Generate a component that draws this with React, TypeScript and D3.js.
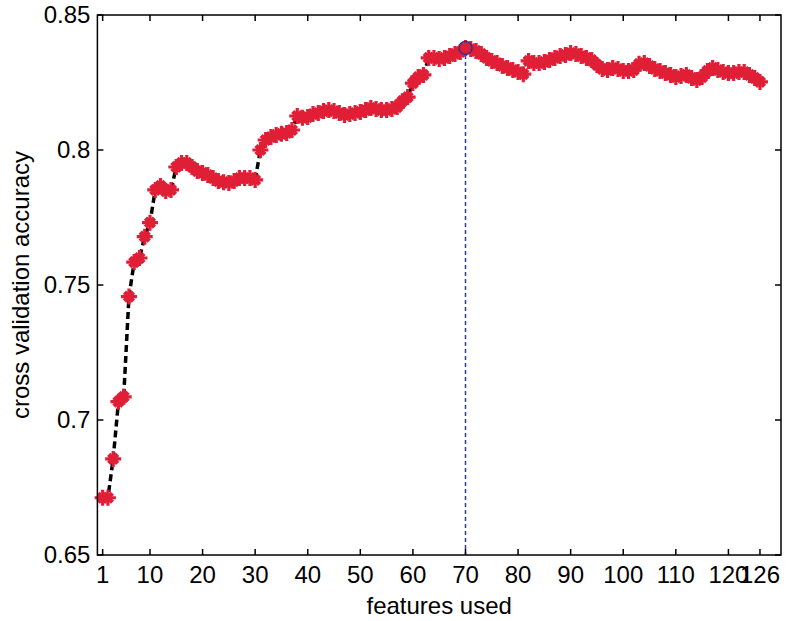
import React, { useEffect, useRef } from 'react';
import * as d3 from 'd3';

// number of features used (1..126)
const featuresUsed = d3.range(1, 127);

// cross validation accuracy
const accuracy = [
  0.6712, 0.6712, 0.6856, 0.7068, 0.7086, 0.7457, 0.7585, 0.7600, 0.7679, 0.7731,
  0.7852, 0.7867, 0.7848, 0.7852, 0.7937, 0.7952, 0.7952, 0.7937, 0.7922, 0.7915,
  0.7907, 0.7896, 0.7885, 0.7881, 0.7878, 0.7885, 0.7896, 0.7896, 0.7896, 0.7889,
  0.8000, 0.8037, 0.8048, 0.8056, 0.8060, 0.8063, 0.8074, 0.8126, 0.8119, 0.8122,
  0.8133, 0.8137, 0.8144, 0.8148, 0.8144, 0.8137, 0.8130, 0.8133, 0.8137, 0.8141,
  0.8148, 0.8156, 0.8152, 0.8148, 0.8148, 0.8152, 0.8159, 0.8181, 0.8196, 0.8248,
  0.8270, 0.8278, 0.8341, 0.8341, 0.8337, 0.8341, 0.8348, 0.8356, 0.8363, 0.8378,
  0.8374, 0.8367, 0.8356, 0.8341, 0.8330, 0.8322, 0.8311, 0.8304, 0.8296, 0.8289,
  0.8281, 0.8330, 0.8322, 0.8322, 0.8326, 0.8333, 0.8341, 0.8348, 0.8352, 0.8359,
  0.8356, 0.8348, 0.8341, 0.8333, 0.8315, 0.8300, 0.8296, 0.8304, 0.8300, 0.8293,
  0.8293, 0.8296, 0.8319, 0.8322, 0.8311, 0.8300, 0.8293, 0.8285, 0.8278, 0.8270,
  0.8274, 0.8278, 0.8267, 0.8259, 0.8270, 0.8293, 0.8304, 0.8296, 0.8289, 0.8285,
  0.8285, 0.8289, 0.8289, 0.8278, 0.8267, 0.8252,
];

const xTicks = [1, 10, 20, 30, 40, 50, 60, 70, 80, 90, 100, 110, 120, 126];
const yTicks = [0.65, 0.7, 0.75, 0.8, 0.85];
const bestFeatures = 70;

const width = 790;
const height = 621;

const App = () => {
  const svgRef = useRef<SVGSVGElement | null>(null);

  useEffect(() => {
    if (!svgRef.current) return;
    const svg = d3.select(svgRef.current);
    svg.selectAll('*').remove();

    const margin = { top: 15, right: 9, bottom: 66, left: 97.4 };
    const innerWidth = width - margin.left - margin.right;
    const innerHeight = height - margin.top - margin.bottom;
    const font = 'Liberation Sans, Arial, sans-serif';
    const fontSize = 24;

    const data = featuresUsed.map((f, i) => ({ f, acc: accuracy[i] }));

    const x = d3.scaleLinear().domain([0, 130]).range([0, innerWidth]);
    const y = d3.scaleLinear().domain([0.65, 0.85]).range([innerHeight, 0]);

    svg.append('rect').attr('width', width).attr('height', height).attr('fill', 'white');

    const g = svg.append('g').attr('transform', `translate(${margin.left}, ${margin.top})`);

    // dashed connecting line
    const line = d3.line<{ f: number; acc: number }>()
      .x(d => x(d.f))
      .y(d => y(d.acc));

    g.append('path')
      .datum(data)
      .attr('fill', 'none')
      .attr('stroke', 'black')
      .attr('stroke-width', 3.5)
      .attr('stroke-dasharray', '7,4')
      .attr('d', line);

    // vertical marker of the best feature count
    const best = data.find(d => d.f === bestFeatures)!;
    g.append('line')
      .attr('x1', x(best.f))
      .attr('x2', x(best.f))
      .attr('y1', y(best.acc) + 7)
      .attr('y2', innerHeight)
      .attr('stroke', '#2b3c9c')
      .attr('stroke-width', 1.5)
      .attr('stroke-dasharray', '4,3');

    // star markers: plus arms plus a short thick cross
    const plus = 'M-8,0H8M0,-8V8';
    const cross = 'M-4.5,-4.5L4.5,4.5M-4.5,4.5L4.5,-4.5';
    const pts = g.selectAll('.pt')
      .data(data)
      .join('g')
      .attr('class', 'pt')
      .attr('transform', d => `translate(${x(d.f)},${y(d.acc)})`);
    pts.append('path')
      .attr('d', plus)
      .attr('fill', 'none')
      .attr('stroke', '#e01f36')
      .attr('stroke-width', 3.2);
    pts.append('path')
      .attr('d', cross)
      .attr('fill', 'none')
      .attr('stroke', '#e01f36')
      .attr('stroke-width', 4.5);

    g.append('circle')
      .attr('cx', x(best.f))
      .attr('cy', y(best.acc))
      .attr('r', 6.5)
      .attr('fill', 'none')
      .attr('stroke', '#3b2f8e')
      .attr('stroke-width', 1.5);

    // box
    g.append('rect')
      .attr('width', innerWidth)
      .attr('height', innerHeight)
      .attr('fill', 'none')
      .attr('stroke', 'black')
      .attr('stroke-width', 1.5);

    const tickLen = 6;
    // x ticks, bottom and top, pointing inward
    xTicks.forEach(t => {
      g.append('line')
        .attr('x1', x(t)).attr('x2', x(t))
        .attr('y1', innerHeight).attr('y2', innerHeight - tickLen)
        .attr('stroke', 'black').attr('stroke-width', 1.5);
      g.append('line')
        .attr('x1', x(t)).attr('x2', x(t))
        .attr('y1', 0).attr('y2', tickLen)
        .attr('stroke', 'black').attr('stroke-width', 1.5);
      g.append('text')
        .attr('x', x(t))
        .attr('y', innerHeight + 28)
        .attr('text-anchor', 'middle')
        .attr('font-family', font)
        .attr('font-size', fontSize)
        .attr('fill', 'black')
        .text(t);
    });

    // y ticks, left and right
    yTicks.forEach(t => {
      g.append('line')
        .attr('x1', 0).attr('x2', tickLen)
        .attr('y1', y(t)).attr('y2', y(t))
        .attr('stroke', 'black').attr('stroke-width', 1.5);
      g.append('line')
        .attr('x1', innerWidth).attr('x2', innerWidth - tickLen)
        .attr('y1', y(t)).attr('y2', y(t))
        .attr('stroke', 'black').attr('stroke-width', 1.5);
      g.append('text')
        .attr('x', -7)
        .attr('y', y(t))
        .attr('dy', '0.35em')
        .attr('text-anchor', 'end')
        .attr('font-family', font)
        .attr('font-size', fontSize)
        .attr('fill', 'black')
        .text(String(t));
    });

    // axis labels
    svg.append('text')
      .attr('x', margin.left + innerWidth / 2)
      .attr('y', 614)
      .attr('text-anchor', 'middle')
      .attr('font-family', font)
      .attr('font-size', fontSize)
      .attr('fill', 'black')
      .text('features used');

    svg.append('text')
      .attr('transform', `translate(29, ${margin.top + innerHeight / 2}) rotate(-90)`)
      .attr('text-anchor', 'middle')
      .attr('font-family', font)
      .attr('font-size', fontSize)
      .attr('fill', 'black')
      .text('cross validation accuracy');
  }, []);

  return (
    <svg
      ref={svgRef}
      width={width}
      height={height}
      style={{ position: 'absolute', left: 0, top: 0 }}
    />
  );
};

export default App;
